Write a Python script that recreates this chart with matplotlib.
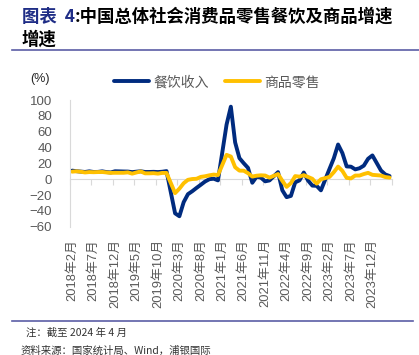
import matplotlib
matplotlib.use("Agg")
import matplotlib.pyplot as plt
from matplotlib.lines import Line2D
import numpy as np

plt.rcParams['font.family'] = ['Liberation Sans', 'Noto Sans CJK SC']

# monthly data 2018-02 .. 2024-04 (January not published separately -> None)
catering = [10.8, 10.1, 9.6, 9.1, 9.9, 9.1, 9.2, 9.9, 9.0, 8.5, 10.0,
            None, 9.7, 9.6, 8.9, 9.5, 10.0, 9.1, 9.1, 9.3, 9.0, 9.4, 10.2,
            None, -43.1, -46.8, -29.0, -18.9, -15.2, -11.0, -7.0, -2.9, 0.0, 0.6, -1.5,
            None, 68.9, 91.6, 46.4, 26.6, 20.2, 14.3, -4.5, 3.1, 2.0, -2.7, -1.6,
            None, 8.9, -14.0, -22.7, -21.1, -4.0, -1.5, 8.4, -1.7, -8.1, -8.4, -14.1,
            None, 13.0, 26.3, 43.8, 33.0, 16.1, 15.8, 12.4, 13.8, 17.1, 25.8, 30.0,
            None, 11.0, 6.0, 4.0]
goods = [9.5, 10.0, 9.4, 8.5, 9.0, 8.8, 9.0, 9.1, 8.5, 8.0, 8.1,
         None, 8.1, 8.6, 7.0, 8.5, 9.8, 7.4, 7.4, 7.6, 7.0, 7.9, 7.9,
         None, -17.6, -12.0, -5.1, -0.8, 0.2, 0.5, 2.9, 3.7, 4.9, 5.8, 5.2,
         None, 30.7, 28.6, 15.1, 10.8, 10.7, 7.6, 3.3, 4.4, 4.9, 4.6, 2.0,
         None, 6.5, -2.1, -9.7, -5.0, 3.9, 3.2, 5.1, 2.8, 0.5, -5.6, -0.1,
         None, 2.9, 8.8, 15.9, 10.5, 1.7, 1.0, 4.6, 4.6, 6.5, 8.0, 5.5,
         None, 4.6, 2.7, 2.0]
tick_labels = ['2018年2月', '2018年7月', '2018年12月', '2019年5月', '2019年10月',
               '2020年3月', '2020年8月', '2021年1月', '2021年6月', '2021年11月',
               '2022年4月', '2022年9月', '2023年2月', '2023年7月', '2023年12月']
series_names = ['餐饮收入', '商品零售']

blue = '#002b7f'
gold = '#ffc000'
gray_txt = '#595959'
axis_gray = '#d9d9d9'

fig = plt.figure(figsize=(4.19, 3.55), dpi=100)
ax = fig.add_axes([70/419, 1 - 226.7/355, (391.7 - 70)/419, (226.7 - 100)/355])

n = len(catering)
x = np.arange(n)

def valid(vals):
    arr = np.array([np.nan if v is None else v for v in vals], dtype=float)
    m = ~np.isnan(arr)
    return x[m], arr[m]

xb, yb = valid(catering)
xg, yg = valid(goods)
l1, = ax.plot(xb, yb, color=blue, lw=2.8, solid_joinstyle='round', solid_capstyle='round')
l2, = ax.plot(xg, yg, color=gold, lw=2.8, solid_joinstyle='round', solid_capstyle='round')

ax.set_xlim(-0.5, n - 0.5)
ax.set_ylim(-60, 100)
ax.set_yticks(range(-60, 101, 20))
ax.tick_params(axis='y', length=0, pad=13, labelsize=9.5, labelcolor=gray_txt)
ax.set_xticks(np.arange(0, n, 5))
ax.set_xticklabels(tick_labels, rotation=90)
ax.tick_params(axis='x', length=0, pad=9, labelsize=9.3, labelcolor=gray_txt)
for s in ['top', 'right', 'bottom']:
    ax.spines[s].set_visible(False)
ax.spines['left'].set_color(axis_gray)
ax.patch.set_alpha(0)

# zero line with tick marks between categories
zero_pos = (0 - (-60)) / 160
sec = ax.secondary_xaxis(zero_pos)
sec.set_xticks(np.arange(-0.5, n, 5))
sec.tick_params(axis='x', length=4, color=axis_gray, labelbottom=False, labeltop=False)
for s in sec.spines.values():
    s.set_color(axis_gray)

ax.legend([l1, l2], series_names, loc='center', bbox_to_anchor=(217/419, 1 - 82.3/355),
          bbox_transform=fig.transFigure, ncol=2, frameon=False,
          labelcolor=gray_txt, handlelength=2.5, handletextpad=0.3, columnspacing=1.2,
          prop={'family': ['Noto Sans CJK SC'], 'size': 10})

fig.text(40/419, 1 - 79/355, '(%)', ha='center', va='center', fontsize=9, color='#262626')

# title
t1 = fig.text(22/419, 1 - 17/355, '图表  4', ha='left', va='center', fontsize=12.5,
              fontweight='bold', color='#1f2d86', family=['Noto Sans CJK SC'])
renderer = fig.canvas.get_renderer()
bb = t1.get_window_extent(renderer)
fig.text(bb.x1 / fig.bbox.width, 1 - 17/355, ':中国总体社会消费品零售餐饮及商品增速',
         ha='left', va='center', fontsize=12.5, fontweight='bold', color='black',
         family=['Noto Sans CJK SC'])
fig.text(22/419, 1 - 40/355, '增速', ha='left', va='center', fontsize=12.5,
         fontweight='bold', color='black', family=['Noto Sans CJK SC'])

fig.add_artist(Line2D([12/419, 1.0], [1 - 50/355] * 2, color='#5b5ea6', lw=1.2))
fig.add_artist(Line2D([12/419, 413/419], [1 - 320.7/355] * 2, color='#5b5ea6', lw=1.2))

fig.text(26/419, 1 - 333/355, '注：截至 2024 年 4 月', ha='left', va='center',
         fontsize=7.5, color='#333333', family=['Noto Sans CJK SC'])
fig.text(20.7/419, 1 - 350.5/355, '资料来源：国家统计局、Wind，浦银国际', ha='left', va='center',
         fontsize=7.5, color='#333333', family=['Noto Sans CJK SC'])

fig.savefig('out.png', dpi=100)
